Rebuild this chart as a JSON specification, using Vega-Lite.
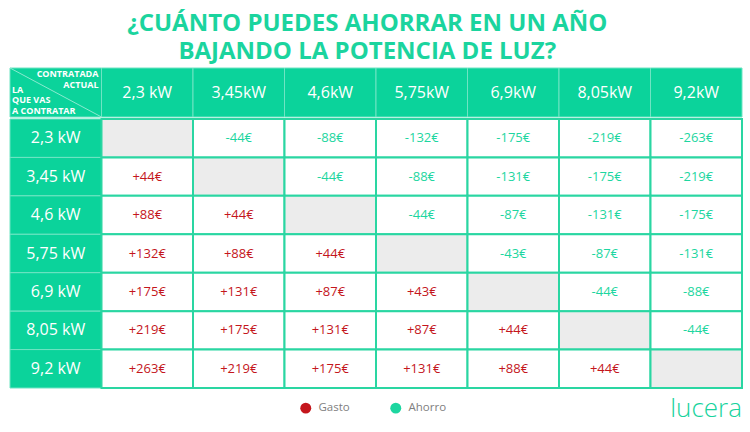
{
  "$schema": "https://vega.github.io/schema/vega-lite/v6.json",
  "background": "white",
  "padding": {"left": 9, "right": 9, "top": 11, "bottom": 6},
  "title": {
    "text": ["¿CUÁNTO PUEDES AHORRAR EN UN AÑO", "BAJANDO LA POTENCIA DE LUZ?"],
    "anchor": "middle", "fontSize": 24, "font": "Open Sans", "fontWeight": "bold",
    "color": "#1bd49e", "lineHeight": 28, "offset": 4, "dx": -9
  },
  "config": {"view": {"stroke": null}, "font": "Open Sans"},
  "spacing": 0,
  "datasets": {
    "cols": [
      {"c": "hdr", "label": ""},
      {"c": "2,3", "label": "2,3 kW"},
      {"c": "3,45", "label": "3,45kW"},
      {"c": "4,6", "label": "4,6kW"},
      {"c": "5,75", "label": "5,75kW"},
      {"c": "6,9", "label": "6,9kW"},
      {"c": "8,05", "label": "8,05kW"},
      {"c": "9,2", "label": "9,2kW"}
    ],
    "rows": [
      {"c": "hdr", "r": "2,3", "label": "2,3 kW"},
      {"c": "hdr", "r": "3,45", "label": "3,45 kW"},
      {"c": "hdr", "r": "4,6", "label": "4,6 kW"},
      {"c": "hdr", "r": "5,75", "label": "5,75 kW"},
      {"c": "hdr", "r": "6,9", "label": "6,9 kW"},
      {"c": "hdr", "r": "8,05", "label": "8,05 kW"},
      {"c": "hdr", "r": "9,2", "label": "9,2 kW"}
    ],
    "cells": [
      {"r": "2,3", "c": "2,3", "v": null, "txt": "", "tipo": null},
      {"r": "2,3", "c": "3,45", "v": -44, "txt": "-44€", "tipo": "Ahorro"},
      {"r": "2,3", "c": "4,6", "v": -88, "txt": "-88€", "tipo": "Ahorro"},
      {"r": "2,3", "c": "5,75", "v": -132, "txt": "-132€", "tipo": "Ahorro"},
      {"r": "2,3", "c": "6,9", "v": -175, "txt": "-175€", "tipo": "Ahorro"},
      {"r": "2,3", "c": "8,05", "v": -219, "txt": "-219€", "tipo": "Ahorro"},
      {"r": "2,3", "c": "9,2", "v": -263, "txt": "-263€", "tipo": "Ahorro"},
      {"r": "3,45", "c": "2,3", "v": 44, "txt": "+44€", "tipo": "Gasto"},
      {"r": "3,45", "c": "3,45", "v": null, "txt": "", "tipo": null},
      {"r": "3,45", "c": "4,6", "v": -44, "txt": "-44€", "tipo": "Ahorro"},
      {"r": "3,45", "c": "5,75", "v": -88, "txt": "-88€", "tipo": "Ahorro"},
      {"r": "3,45", "c": "6,9", "v": -131, "txt": "-131€", "tipo": "Ahorro"},
      {"r": "3,45", "c": "8,05", "v": -175, "txt": "-175€", "tipo": "Ahorro"},
      {"r": "3,45", "c": "9,2", "v": -219, "txt": "-219€", "tipo": "Ahorro"},
      {"r": "4,6", "c": "2,3", "v": 88, "txt": "+88€", "tipo": "Gasto"},
      {"r": "4,6", "c": "3,45", "v": 44, "txt": "+44€", "tipo": "Gasto"},
      {"r": "4,6", "c": "4,6", "v": null, "txt": "", "tipo": null},
      {"r": "4,6", "c": "5,75", "v": -44, "txt": "-44€", "tipo": "Ahorro"},
      {"r": "4,6", "c": "6,9", "v": -87, "txt": "-87€", "tipo": "Ahorro"},
      {"r": "4,6", "c": "8,05", "v": -131, "txt": "-131€", "tipo": "Ahorro"},
      {"r": "4,6", "c": "9,2", "v": -175, "txt": "-175€", "tipo": "Ahorro"},
      {"r": "5,75", "c": "2,3", "v": 132, "txt": "+132€", "tipo": "Gasto"},
      {"r": "5,75", "c": "3,45", "v": 88, "txt": "+88€", "tipo": "Gasto"},
      {"r": "5,75", "c": "4,6", "v": 44, "txt": "+44€", "tipo": "Gasto"},
      {"r": "5,75", "c": "5,75", "v": null, "txt": "", "tipo": null},
      {"r": "5,75", "c": "6,9", "v": -43, "txt": "-43€", "tipo": "Ahorro"},
      {"r": "5,75", "c": "8,05", "v": -87, "txt": "-87€", "tipo": "Ahorro"},
      {"r": "5,75", "c": "9,2", "v": -131, "txt": "-131€", "tipo": "Ahorro"},
      {"r": "6,9", "c": "2,3", "v": 175, "txt": "+175€", "tipo": "Gasto"},
      {"r": "6,9", "c": "3,45", "v": 131, "txt": "+131€", "tipo": "Gasto"},
      {"r": "6,9", "c": "4,6", "v": 87, "txt": "+87€", "tipo": "Gasto"},
      {"r": "6,9", "c": "5,75", "v": 43, "txt": "+43€", "tipo": "Gasto"},
      {"r": "6,9", "c": "6,9", "v": null, "txt": "", "tipo": null},
      {"r": "6,9", "c": "8,05", "v": -44, "txt": "-44€", "tipo": "Ahorro"},
      {"r": "6,9", "c": "9,2", "v": -88, "txt": "-88€", "tipo": "Ahorro"},
      {"r": "8,05", "c": "2,3", "v": 219, "txt": "+219€", "tipo": "Gasto"},
      {"r": "8,05", "c": "3,45", "v": 175, "txt": "+175€", "tipo": "Gasto"},
      {"r": "8,05", "c": "4,6", "v": 131, "txt": "+131€", "tipo": "Gasto"},
      {"r": "8,05", "c": "5,75", "v": 87, "txt": "+87€", "tipo": "Gasto"},
      {"r": "8,05", "c": "6,9", "v": 44, "txt": "+44€", "tipo": "Gasto"},
      {"r": "8,05", "c": "8,05", "v": null, "txt": "", "tipo": null},
      {"r": "8,05", "c": "9,2", "v": -44, "txt": "-44€", "tipo": "Ahorro"},
      {"r": "9,2", "c": "2,3", "v": 263, "txt": "+263€", "tipo": "Gasto"},
      {"r": "9,2", "c": "3,45", "v": 219, "txt": "+219€", "tipo": "Gasto"},
      {"r": "9,2", "c": "4,6", "v": 175, "txt": "+175€", "tipo": "Gasto"},
      {"r": "9,2", "c": "5,75", "v": 131, "txt": "+131€", "tipo": "Gasto"},
      {"r": "9,2", "c": "6,9", "v": 88, "txt": "+88€", "tipo": "Gasto"},
      {"r": "9,2", "c": "8,05", "v": 44, "txt": "+44€", "tipo": "Gasto"},
      {"r": "9,2", "c": "9,2", "v": null, "txt": "", "tipo": null}
    ],
    "brand": [{"brand": "lucera", "c": "9,2"}]
  },
  "vconcat": [
    {
      "width": 732, "height": 49,
      "data": {"name": "cols"},
      "layer": [
        {
          "mark": {"type": "rect", "fill": "#0bd39b", "stroke": "#6fe4c3", "strokeWidth": 1},
          "encoding": {
            "x": {"field": "c", "type": "nominal", "scale": {"type": "band", "domain": ["hdr", "2,3", "3,45", "4,6", "5,75", "6,9", "8,05", "9,2"], "paddingInner": 0, "paddingOuter": 0}, "axis": null}
          }
        },
        {
          "transform": [{"filter": "datum.c !== 'hdr'"}],
          "mark": {"type": "text", "color": "white", "fontSize": 16, "baseline": "middle"},
          "encoding": {
            "x": {"field": "c", "type": "nominal"},
            "y": {"datum": 0.5, "type": "quantitative", "scale": {"domain": [0, 1]}, "axis": null},
            "text": {"field": "label"}
          }
        },
        {
          "transform": [{"filter": "datum.c === 'hdr'"}],
          "mark": {"type": "rule", "color": "#8aead0", "strokeWidth": 1},
          "encoding": {
            "x": {"field": "c", "type": "nominal", "bandPosition": 0},
            "x2": {"field": "c", "bandPosition": 1},
            "y": {"datum": 1, "type": "quantitative"},
            "y2": {"datum": 0}
          }
        },
        {
          "transform": [{"filter": "datum.c === 'hdr'"}],
          "mark": {"type": "text", "text": ["CONTRATADA", "ACTUAL"], "align": "right", "baseline": "top", "fontSize": 9, "fontWeight": "bold", "color": "white", "lineHeight": 10.5, "dx": -3},
          "encoding": {
            "x": {"field": "c", "type": "nominal", "bandPosition": 1},
            "y": {"datum": 0.95, "type": "quantitative"}
          }
        },
        {
          "transform": [{"filter": "datum.c === 'hdr'"}],
          "mark": {"type": "text", "text": ["LA", "QUE VAS", "A CONTRATAR"], "align": "left", "baseline": "top", "fontSize": 9, "fontWeight": "bold", "color": "white", "lineHeight": 10.5, "dx": 2},
          "encoding": {
            "x": {"field": "c", "type": "nominal", "bandPosition": 0},
            "y": {"datum": 0.633, "type": "quantitative"}
          }
        }
      ]
    },
    {
      "width": 732, "height": 269,
      "layer": [
        {
          "data": {"name": "rows"},
          "mark": {"type": "rect", "fill": "#0bd39b", "stroke": "#6fe4c3", "strokeWidth": 1},
          "encoding": {
            "x": {"field": "c", "type": "nominal", "scale": {"type": "band", "domain": ["hdr", "2,3", "3,45", "4,6", "5,75", "6,9", "8,05", "9,2"], "paddingInner": 0, "paddingOuter": 0}, "axis": null},
            "y": {"field": "r", "type": "nominal", "scale": {"type": "band", "domain": ["2,3", "3,45", "4,6", "5,75", "6,9", "8,05", "9,2"], "paddingInner": 0, "paddingOuter": 0}, "axis": null}
          }
        },
        {
          "data": {"name": "cells"},
          "mark": {"type": "rect", "stroke": "#2ad6a2", "strokeWidth": 2},
          "encoding": {
            "x": {"field": "c", "type": "nominal"},
            "y": {"field": "r", "type": "nominal"},
            "fill": {"condition": {"test": "datum.v === null", "value": "#ececec"}, "value": "#ffffff"}
          }
        },
        {
          "data": {"name": "cells"},
          "transform": [{"filter": "datum.v !== null"}],
          "mark": {"type": "text", "fontSize": 13, "baseline": "middle"},
          "encoding": {
            "x": {"field": "c", "type": "nominal"},
            "y": {"field": "r", "type": "nominal"},
            "text": {"field": "txt"},
            "color": {
              "field": "tipo", "type": "nominal",
              "scale": {"domain": ["Gasto", "Ahorro"], "range": ["#c4161c", "#1dd6a0"]},
              "legend": {"orient": "none", "legendX": 290, "legendY": 334, "direction": "horizontal", "title": null, "symbolType": "circle", "symbolSize": 120, "labelFontSize": 11.5, "labelColor": "#808080", "labelFont": "Open Sans", "columnPadding": 40, "labelOffset": 7, "symbolStrokeWidth": 0, "symbolOpacity": 1}
            }
          }
        },
        {
          "data": {"name": "rows"},
          "mark": {"type": "text", "color": "white", "fontSize": 16, "fontWeight": 500, "baseline": "middle"},
          "encoding": {
            "x": {"field": "c", "type": "nominal"},
            "y": {"field": "r", "type": "nominal"},
            "text": {"field": "label"}
          }
        }
      ]
    },
    {
      "width": 732, "height": 40,
      "data": {"name": "brand"},
      "layer": [
        {
          "mark": {"type": "text", "align": "right", "baseline": "alphabetic", "font": "Open Sans", "fontWeight": 300, "fontSize": 26, "color": "#17d39d"},
          "encoding": {
            "x": {"field": "c", "type": "nominal", "bandPosition": 1, "scale": {"type": "band", "domain": ["hdr", "2,3", "3,45", "4,6", "5,75", "6,9", "8,05", "9,2"], "paddingInner": 0, "paddingOuter": 0}, "axis": null},
            "y": {"datum": 0.3, "type": "quantitative", "scale": {"domain": [0, 1]}, "axis": null},
            "text": {"field": "brand"}
          }
        }
      ]
    }
  ]
}
